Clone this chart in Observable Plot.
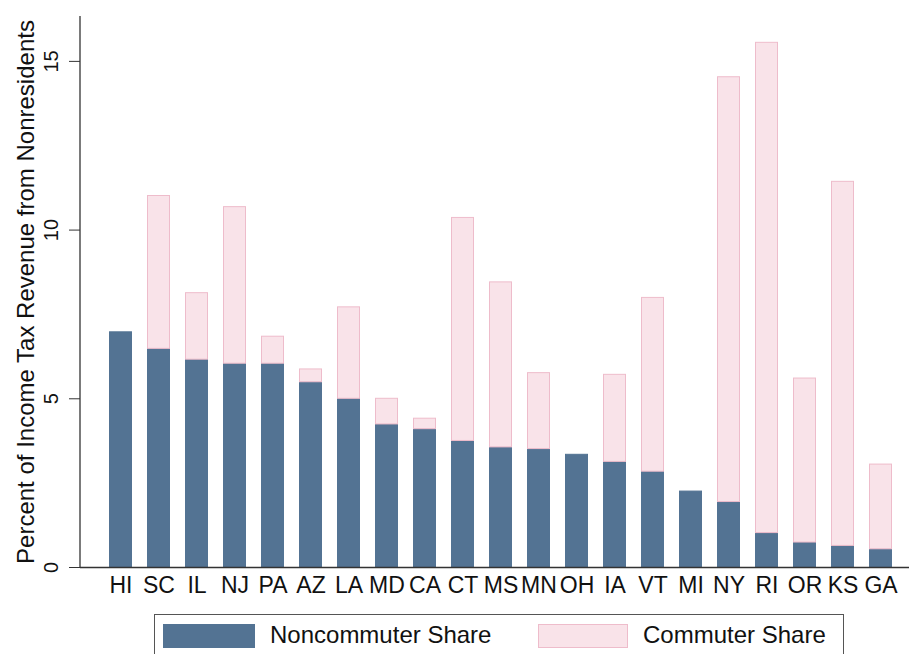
<!DOCTYPE html>
<html>
<head>
<meta charset="utf-8">
<script src="https://cdn.jsdelivr.net/npm/d3@7"></script>
<script src="https://cdn.jsdelivr.net/npm/@observablehq/plot@0.6"></script>
<style>
  html, body { margin: 0; padding: 0; background: #fff; }
  body { width: 909px; height: 654px; overflow: hidden; position: relative; font-family: "Liberation Sans", Arial, Helvetica, sans-serif; }
  #chart { position: absolute; left: 0; top: 0; }
  #legend { position: absolute; left: 154px; top: 614px; width: 690px; height: 60px; border: 1px solid #555; box-sizing: border-box; }
  .sw { position: absolute; top: 9px; height: 24px; box-sizing: border-box; }
  .lt { position: absolute; top: 6px; font-size: 24px; line-height: 28px; color: #111; white-space: nowrap; }
</style>
</head>
<body>
<div id="chart"></div>
<div id="legend">
  <div class="sw" id="sw1" style="left:8px;width:92px;"></div>
  <div class="lt" id="lt1" style="left:115px;"></div>
  <div class="sw" id="sw2" style="left:383px;width:90px;"></div>
  <div class="lt" id="lt2" style="left:488px;"></div>
</div>
<script>
const states = ["HI","SC","IL","NJ","PA","AZ","LA","MD","CA","CT","MS","MN","OH","IA","VT","MI","NY","RI","OR","KS","GA"];
const noncommuterShare = [6.97, 6.48, 6.16, 6.04, 6.04, 5.49, 5.00, 4.24, 4.10, 3.75, 3.56, 3.51, 3.34, 3.13, 2.84, 2.25, 1.94, 1.02, 0.74, 0.64, 0.54];
const commuterShare = [0, 4.53, 1.97, 4.64, 0.80, 0.38, 2.71, 0.76, 0.31, 6.61, 4.89, 2.25, 0, 2.58, 5.15, 0, 12.59, 14.53, 4.86, 10.79, 2.51];
const seriesNames = ["Noncommuter Share", "Commuter Share"];
const yTicks = [0, 5, 10, 15];
const yLabel = "Percent of Income Tax Revenue from Nonresidents";

const blue = "#537393";
const pinkFill = "#f9e3e9";
const pinkStroke = "#eebccb";

const rows = [];
states.forEach((s, i) => {
  rows.push({state: s, series: seriesNames[0], value: noncommuterShare[i]});
  rows.push({state: s, series: seriesNames[1], value: commuterShare[i]});
});

const yAxisLine = (index, scales, values, dims) => {
  const l = document.createElementNS("http://www.w3.org/2000/svg", "line");
  l.setAttribute("x1", dims.marginLeft);
  l.setAttribute("x2", dims.marginLeft);
  l.setAttribute("y1", dims.marginTop);
  l.setAttribute("y2", dims.height - dims.marginBottom);
  l.setAttribute("stroke", "#333");
  l.setAttribute("stroke-width", 1.3);
  return l;
};

const chart = Plot.plot({
  width: 909,
  height: 600,
  marginLeft: 80,
  marginRight: 0,
  marginTop: 16,
  marginBottom: 33,
  style: {fontFamily: "'Liberation Sans', Arial, Helvetica, sans-serif", color: "#111", background: "#fff"},
  x: {domain: states, range: [101.5, 899.5], paddingInner: 0.39, paddingOuter: 0.195, label: null},
  y: {domain: [0, 16.33], label: null},
  color: {domain: seriesNames, range: [blue, pinkFill]},
  marks: [
    Plot.barY(rows, Plot.stackY({
      filter: d => d.value > 0,
      x: "state", y: "value",
      fill: "series",
      stroke: d => d.series === seriesNames[1] ? pinkStroke : blue,
      strokeWidth: 1,
      insetLeft: 0.5, insetRight: 0.5
    })),
    Plot.axisX({tickSize: 0, tickPadding: 9, fontSize: 23, label: null}),
    Plot.axisY({ticks: yTicks, tickSize: 11, tickRotate: -90, textAnchor: "middle", lineAnchor: "bottom", tickPadding: 12, fontSize: 20, label: null, stroke: "#333"}),
    Plot.text([yLabel], {frameAnchor: "left", textAnchor: "middle", rotate: -90, dx: -47, lineAnchor: "bottom", fontSize: 24, fill: "#111"}),
    Plot.ruleY([0], {stroke: "#333", strokeWidth: 1.3}),
    yAxisLine
  ]
});
document.getElementById("chart").appendChild(chart);

document.getElementById("sw1").style.background = blue;
document.getElementById("sw2").style.background = pinkFill;
document.getElementById("sw2").style.border = "1px solid " + pinkStroke;
document.getElementById("lt1").textContent = seriesNames[0];
document.getElementById("lt2").textContent = seriesNames[1];
</script>
</body>
</html>
